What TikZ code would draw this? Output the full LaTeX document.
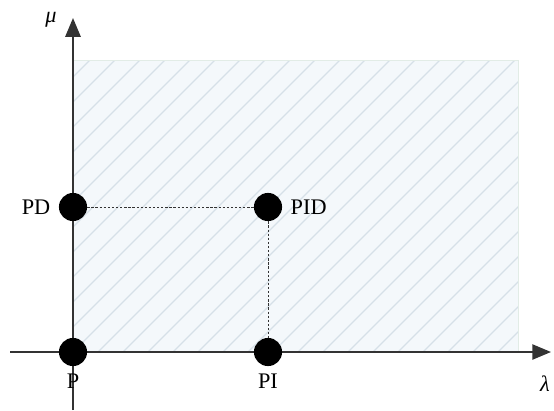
\documentclass[tikz,border=0pt]{standalone}
\usepackage{fontspec}
\setmainfont{Liberation Serif}
\usetikzlibrary{arrows.meta, positioning}
\definecolor{celeste}{HTML}{F4F8FB}
\definecolor{rayado}{HTML}{D6E0E8}
\definecolor{borde}{HTML}{E2ECE6}
\definecolor{grisoscuro}{HTML}{333333}
\tikzset{
  every picture/.style={font=\fontsize{19}{22}\selectfont, >=Triangle},
  punto/.style={circle, fill=black, inner sep=0pt, minimum size=24pt},
  eje/.style={-{Triangle[length=16pt, width=13pt]}, line width=1.6pt, draw=grisoscuro},
  guia/.style={dashed, dash pattern=on 2pt off 1.5pt, thin, black!80},
  etiqueta/.style={inner sep=1pt},
}
\begin{document}
\begin{tikzpicture}[x=0.03cm, y=-0.03cm]
  \useasboundingbox (0,0) rectangle (554,410);
  % region sombreada
  \fill[celeste] (73,60) rectangle (518,352);
  \begin{scope}
    \clip (73,60) rectangle (518,352);
    \foreach \k in {0,...,32} {
      \draw[rayado, line width=1.1pt] ({73+25*\k-300},352) -- ++(300,-300);
    }
  \end{scope}
  \draw[borde, line width=0.8pt] (73,352) |- (518,60) -- (518,352);
  % ejes
  \coordinate (xini) at (10,352);
  \coordinate (xfin) at (551,352);
  \coordinate (yini) at (73,410);
  \coordinate (yfin) at (73,18);
  \draw[eje] (xini) -- (xfin);
  \draw[eje] (yini) -- (yfin);
  \node[etiqueta] (mu) at (51,20) {\textit{μ}};
  \node[etiqueta] (lambda) at (545,384) {\textit{λ}};
  % puntos
  \foreach \n/\x/\y in {p/73/352, pd/73/207, pid/268/207, pi/268/352} {
    \node[punto] (\n) at (\x,\y) {};
  }
  \draw[guia] (pd) -- (pid);
  \draw[guia] (pid) -- (pi);
  \node[etiqueta, below=5pt of p] (lp) {P};
  \node[etiqueta, left=6pt of pd] (lpd) {PD};
  \node[etiqueta, right=6pt of pid] (lpid) {PID};
  \node[etiqueta, below=5pt of pi] (lpi) {PI};
\end{tikzpicture}
\end{document}
